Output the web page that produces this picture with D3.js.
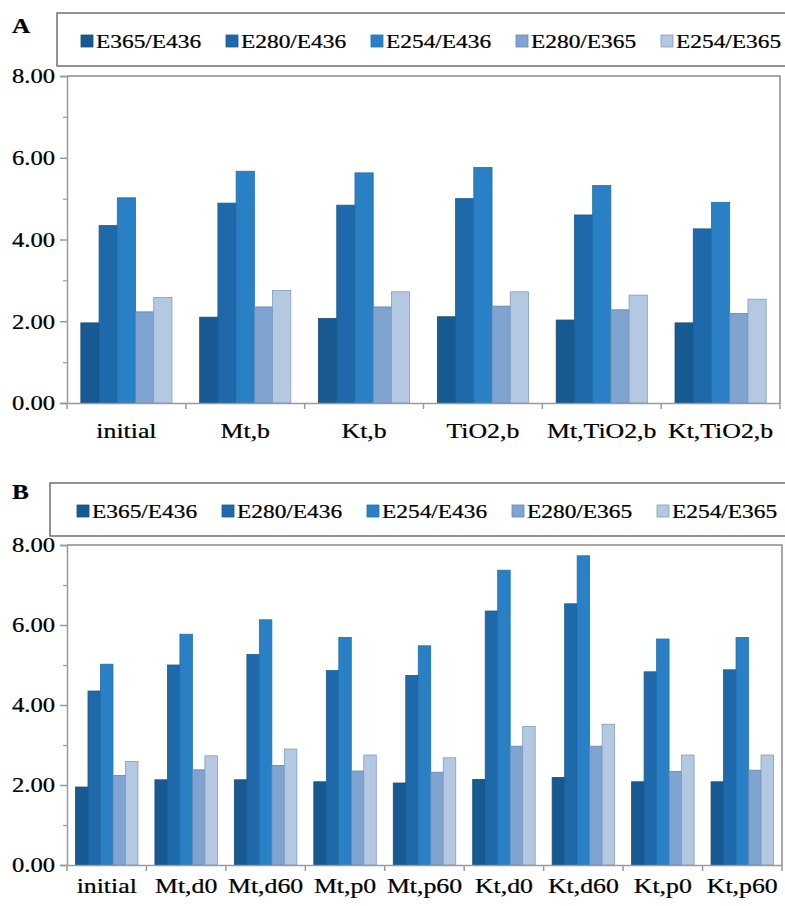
<!DOCTYPE html>
<html>
<head>
<meta charset="utf-8">
<script src="https://cdn.jsdelivr.net/npm/d3@7"></script>
<style>
  body { margin: 0; background: #fff; }
  text { font-family: "Liberation Serif", "Times New Roman", serif; fill: #000; stroke: #000; stroke-width: 0.25px; }
</style>
</head>
<body>
<svg width="785" height="906"></svg>
<script>
// series shared by both panels
var seriesNames = ["E365/E436", "E280/E436", "E254/E436", "E280/E365", "E254/E365"];
var seriesColors = ["#175a91", "#1d69a9", "#2a80c5", "#80a4d0", "#b5c8e2"];
var seriesStroke = ["#174e7c", "#1b5d94", "#2370ad", "#5f86b6", "#7f9dc4"];

// panel A
var catsA = ["initial", "Mt,b", "Kt,b", "TiO2,b", "Mt,TiO2,b", "Kt,TiO2,b"];
var valsA = [
  [1.96, 2.10, 2.07, 2.11, 2.03, 1.96],   // E365/E436
  [4.34, 4.89, 4.84, 5.00, 4.60, 4.26],   // E280/E436
  [5.02, 5.67, 5.63, 5.76, 5.32, 4.91],   // E254/E436
  [2.23, 2.35, 2.35, 2.37, 2.28, 2.19],   // E280/E365
  [2.58, 2.75, 2.72, 2.72, 2.64, 2.54]    // E254/E365
];

// panel B
var catsB = ["initial", "Mt,d0", "Mt,d60", "Mt,p0", "Mt,p60", "Kt,d0", "Kt,d60", "Kt,p0", "Kt,p60"];
var valsB = [
  [1.95, 2.13, 2.13, 2.08, 2.05, 2.14, 2.19, 2.08, 2.08],
  [4.35, 5.00, 5.26, 4.86, 4.74, 6.35, 6.53, 4.83, 4.88],
  [5.02, 5.77, 6.13, 5.69, 5.48, 7.37, 7.73, 5.65, 5.69],
  [2.24, 2.38, 2.49, 2.35, 2.32, 2.97, 2.97, 2.34, 2.37],
  [2.59, 2.73, 2.90, 2.75, 2.68, 3.46, 3.52, 2.75, 2.75]
];

var yMajor = [0, 2, 4, 6, 8];
var yMinor = [1, 3, 5, 7];
var sx = 1.2; // the original figure is stretched horizontally

var svg = d3.select("svg");

function drawPanel(cfg) {
  var g = svg.append("g");

  // panel letter
  g.append("text")
    .attr("transform", "translate(12," + cfg.letterY + ") scale(" + sx + ",1)")
    .attr("font-size", 21)
    .attr("font-weight", "bold")
    .text(cfg.letter);

  // legend box
  g.append("rect")
    .attr("x", cfg.legX).attr("y", cfg.legY)
    .attr("width", 800).attr("height", 53)
    .attr("fill", "#fff")
    .attr("stroke", "#6f6f6f").attr("stroke-width", 1.5);

  var leg = g.selectAll(".leg")
    .data(seriesNames)
    .enter().append("g")
    .attr("class", "leg")
    .attr("transform", function (d, i) { return "translate(" + (cfg.legItemX + i * 145) + "," + (cfg.legY + 28) + ")"; });
  leg.append("rect")
    .attr("x", 0).attr("y", -6).attr("width", 12).attr("height", 12)
    .attr("fill", function (d, i) { return seriesColors[i]; })
    .attr("stroke", function (d, i) { return seriesStroke[i]; })
    .attr("stroke-width", 0.8);
  leg.append("text")
    .attr("transform", "translate(15,7) scale(" + sx + ",1)")
    .attr("font-size", 19.5)
    .text(function (d) { return d; });

  var x0 = d3.scaleBand().domain(cfg.cats).range([cfg.left, cfg.right]).padding(0);
  var x1 = d3.scaleBand().domain(d3.range(seriesNames.length))
    .range([0, x0.bandwidth()]).paddingInner(0).paddingOuter(cfg.outer);
  var y = d3.scaleLinear().domain([0, 8]).range([cfg.bottom, cfg.top]);

  // frame top/right
  g.append("path")
    .attr("d", "M" + cfg.left + "," + cfg.top + "H" + cfg.right + "V" + cfg.bottom)
    .attr("fill", "none").attr("stroke", "#8a8a8a").attr("stroke-width", 1.5);

  // bars
  var grp = g.selectAll(".grp")
    .data(cfg.cats)
    .enter().append("g")
    .attr("class", "grp")
    .attr("transform", function (d) { return "translate(" + x0(d) + ",0)"; });
  grp.selectAll("rect")
    .data(function (d, ci) { return cfg.vals.map(function (s, si) { return { s: si, v: s[ci] }; }); })
    .enter().append("rect")
    .attr("x", function (d) { return x1(d.s); })
    .attr("width", x1.bandwidth())
    .attr("y", function (d) { return y(d.v); })
    .attr("height", function (d) { return cfg.bottom - y(d.v); })
    .attr("fill", function (d) { return seriesColors[d.s]; })
    .attr("stroke", function (d) { return seriesStroke[d.s]; })
    .attr("stroke-width", 0.8);

  // y axis
  var yAxis = g.append("g")
    .attr("transform", "translate(" + cfg.left + ",0)")
    .call(d3.axisLeft(y).tickValues(yMajor).tickSize(7).tickFormat(d3.format(".2f")));
  yAxis.select(".domain").attr("stroke", "#9a9a9a").attr("stroke-width", 1.5);
  yAxis.selectAll(".tick line").attr("stroke", "#9a9a9a").attr("stroke-width", 1.5);
  yAxis.selectAll(".tick text")
    .attr("x", 0).attr("dy", "0.34em")
    .attr("transform", "translate(-12,0) scale(" + sx + ",1)")
    .attr("font-size", 20.5);

  var yMin = g.append("g")
    .attr("transform", "translate(" + cfg.left + ",0)")
    .call(d3.axisLeft(y).tickValues(yMinor).tickSize(4).tickFormat(""));
  yMin.select(".domain").remove();
  yMin.selectAll(".tick line").attr("stroke", "#9a9a9a").attr("stroke-width", 1.2);

  // x axis: labels centred, ticks at category boundaries
  var xAxis = g.append("g")
    .attr("transform", "translate(0," + cfg.bottom + ")")
    .call(d3.axisBottom(x0).tickSize(0).tickPadding(0));
  xAxis.select(".domain").attr("stroke", "#9a9a9a").attr("stroke-width", 1.5);
  xAxis.selectAll(".tick text")
    .attr("y", 0).attr("dy", 0)
    .attr("transform", "translate(0," + cfg.labelDy + ") scale(" + sx + ",1)")
    .attr("font-size", 21.5);

  var bounds = cfg.cats.map(function (c) { return x0(c); }).concat([cfg.right]);
  g.selectAll(".xb")
    .data(bounds)
    .enter().append("line")
    .attr("class", "xb")
    .attr("x1", function (d) { return d; }).attr("x2", function (d) { return d; })
    .attr("y1", cfg.bottom).attr("y2", cfg.bottom + 6)
    .attr("stroke", "#9a9a9a").attr("stroke-width", 1.5);
}

drawPanel({
  letter: "A", letterY: 33,
  legX: 57, legY: 13, legItemX: 81,
  cats: catsA, vals: valsA,
  left: 67, right: 780, top: 76, bottom: 403,
  outer: 0.76, labelDy: 35
});

drawPanel({
  letter: "B", letterY: 499,
  legX: 50, legY: 483, legItemX: 77,
  cats: catsB, vals: valsB,
  left: 67, right: 782, top: 545, bottom: 865,
  outer: 0.68, labelDy: 28
});
</script>
</body>
</html>
